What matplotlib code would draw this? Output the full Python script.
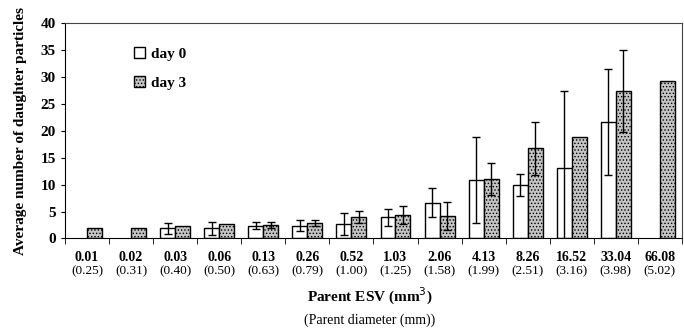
import numpy as np
import matplotlib
matplotlib.use('agg')
import matplotlib.pyplot as plt

matplotlib.rcParams['font.family'] = 'Liberation Serif'
matplotlib.rcParams['hatch.linewidth'] = 0.6
matplotlib.rcParams['hatch.color'] = '#4a4a4a'

# categories: parent ESV (mm^3) and parent diameter (mm)
esv = ["0.01", "0.02", "0.03", "0.06", "0.13", "0.26", "0.52",
       "1.03", "2.06", "4.13", "8.26", "16.52", "33.04", "66.08"]
diam = ["(0.25)", "(0.31)", "(0.40)", "(0.50)", "(0.63)", "(0.79)", "(1.00)",
        "(1.25)", "(1.58)", "(1.99)", "(2.51)", "(3.16)", "(3.98)", "(5.02)"]

# average number of daughter particles (nan = no bar)
day0 = [np.nan, np.nan, 1.9, 1.9, 2.4, 2.4, 2.7, 3.9, 6.6, 10.8, 9.9, 13.1, 21.6, np.nan]
day0_err = [np.nan, np.nan, 1.0, 1.2, 0.7, 1.1, 2.0, 1.5, 2.7, 8.0, 2.1, 14.2, 9.9, np.nan]
day3 = [1.9, 1.9, 2.4, 2.6, 2.5, 2.9, 4.0, 4.4, 4.2, 11.0, 16.7, 18.9, 27.3, 29.3]
day3_err = [np.nan, np.nan, np.nan, np.nan, 0.5, 0.6, 1.1, 1.7, 2.6, 3.0, 5.0, np.nan, 7.6, np.nan]

fig = plt.figure(figsize=(6.84, 3.28), dpi=100)
ax = fig.add_axes([0.095, 0.273, 0.902, 0.657])

x = np.arange(len(esv))
w = 0.34
ax.bar(x - w/2, day0, w, color='white', edgecolor='black', linewidth=1.0, label='day 0')
ax.bar(x + w/2, day3, w, color='#c4c4c4', edgecolor='black', linewidth=1.0, hatch='.....', label='day 3')
ax.errorbar(x - w/2, day0, yerr=day0_err, fmt='none', ecolor='black', elinewidth=1.0, capsize=3, capthick=1.0)
ax.errorbar(x + w/2, day3, yerr=day3_err, fmt='none', ecolor='black', elinewidth=1.0, capsize=3, capthick=1.0)

ax.set_xlim(-0.5, len(esv) - 0.5)
ax.set_ylim(0, 40)
ax.set_yticks(np.arange(0, 41, 5))
ax.tick_params(axis='y', labelsize=11, length=3)
for lab in ax.get_yticklabels():
    lab.set_fontweight('bold')

# tick marks at category boundaries, labels at centers
ax.set_xticks(x)
ax.set_xticklabels(esv, fontsize=10, fontweight='bold')
ax.tick_params(axis='x', which='major', length=0, pad=9)
ax.set_xticks(np.arange(-0.5, len(esv), 1.0), minor=True)
ax.tick_params(axis='x', which='minor', length=4)
for xi, d in zip(x, diam):
    ax.annotate(d, xy=(xi, 0), xycoords=('data', 'axes fraction'),
                xytext=(0, -19), textcoords='offset points', ha='center', va='top', fontsize=9.5)

for s in ['top', 'right']:
    ax.spines[s].set_color('#444444')
    ax.spines[s].set_linewidth(0.8)

ax.set_ylabel("Average number of daughter particles", fontsize=11, fontweight='bold', labelpad=10)
fig.text(0.5 + 0.04, 1 - 296/328, "Parent ESV (mm$^3$)", ha='center', va='center', fontsize=11, fontweight='bold')
fig.text(0.5 + 0.04, 1 - 320/328, "(Parent diameter (mm))", ha='center', va='center', fontsize=10)

ax.legend(loc='upper left', bbox_to_anchor=(0.09, 0.95), frameon=False, prop={'size': 11, 'weight': 'bold'},
          handlelength=0.7, handleheight=0.7, handletextpad=0.4, labelspacing=1.0)

plt.savefig('out.png', dpi=100)
